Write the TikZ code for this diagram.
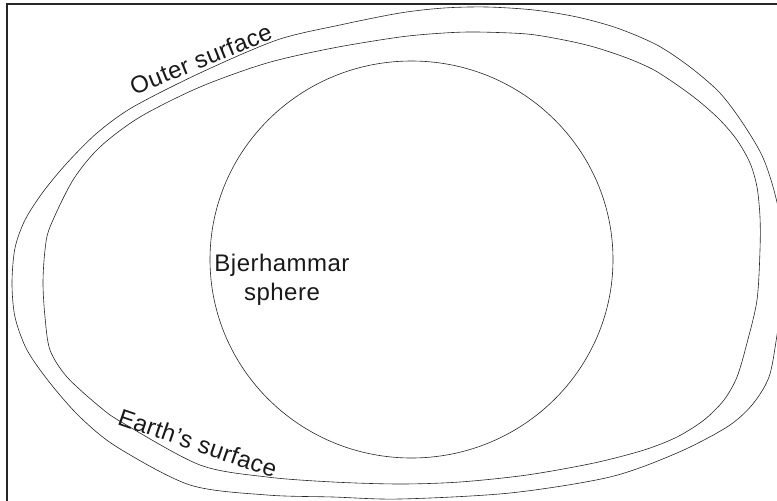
\documentclass[tikz,border=0pt]{standalone}
\usepackage{fontspec}
\setmainfont{Liberation Sans}[LetterSpace=2]
\usetikzlibrary{calc}

\begin{document}
\begin{tikzpicture}[x=1pt, y=-1pt,
    curveline/.style={draw, line width=0.6pt, black!85},
    tagtext/.style={font=\fontsize{24}{29}\selectfont, inner sep=0pt, text=black!90}]
    \useasboundingbox (0,0) rectangle (777,501);
    \clip (0,0) rectangle (777,501);
    % Frame
    \draw[line width=1.6pt, black!85] (7,4) rectangle (800,530);
    % Outer surface
    \draw[curveline] plot[smooth cycle] coordinates {
        (400,13) (444,8) (487,7) (534,10) (577,17) (617,28) (657,45) (690,67)
        (720,93) (744,125) (764,160) (778,207) (786,270) (777,335) (769,377)
        (752,405) (727,427) (677,453) (610,477) (510,493) (400,499) (333,497)
        (267,495) (190,485) (117,447) (80,417) (50,383) (27,350)
        (15,317) (12,283) (15,248) (25,220) (43,192) (67,163) (97,133)
        (133,107) (200,73) (277,40) (340,25)};
    % Earth's surface
    \draw[curveline] plot[smooth cycle] coordinates {
        (400,37) (444,33) (477,32) (527,34) (564,40) (594,47) (627,58) (654,70)
        (680,87) (700,102) (720,120) (737,140) (750,163) (757,187) (760,217)
        (760,250) (757,300) (747,343) (737,377) (724,400) (704,420) (677,437)
        (644,450) (594,463) (527,475) (460,482) (400,484) (333,482) (267,477)
        (200,465) (123,423) (100,407) (67,377) (50,350) (45,317) (43,283)
        (45,250) (50,227) (73,180) (100,147) (140,117) (200,87) (267,63)
        (333,48)};
    % Bjerhammar sphere
    \draw[curveline] (411.5,259.5) ellipse[x radius=201.5pt, y radius=198.5pt];
    % Labels
    \node[tagtext, rotate=22, anchor=base] (outer) at (204,67) {Outer surface};
    \node[tagtext, rotate=-19, anchor=base] (earth) at (195,451) {Earth’s surface};
    \node[tagtext, align=center] (bjer) at (282,280) {Bjerhammar\\sphere};
\end{tikzpicture}
\end{document}
